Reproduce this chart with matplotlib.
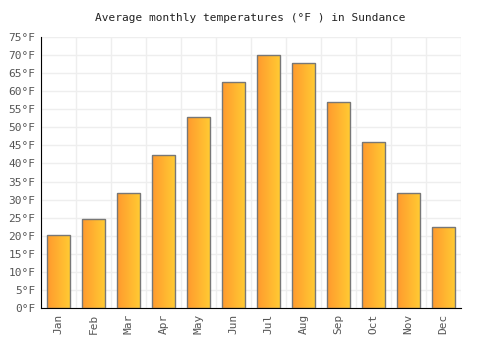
import numpy as np
import matplotlib
matplotlib.use("Agg")
import matplotlib.pyplot as plt
from matplotlib.colors import LinearSegmentedColormap
from matplotlib.ticker import MultipleLocator

## data

months = ["Jan", "Feb", "Mar", "Apr", "May", "Jun", "Jul", "Aug", "Sep", "Oct", "Nov", "Dec"]
temps_f = [20.2, 24.6, 31.8, 42.4, 52.8, 62.5, 70.1, 67.7, 57.0, 45.9, 31.8, 22.5]
yticks = list(range(0, 80, 5))

## figure

plt.rcParams["font.family"] = ["DejaVu Sans Mono"]
fig = plt.figure(figsize=(5, 3.5), dpi=100)
ax = fig.add_axes([41 / 500, 42 / 350, 420 / 500, 271 / 350])

grad = LinearSegmentedColormap.from_list("bar", ["#ff9a2e", "#ffcc33"])
x = np.arange(len(months))
bars = ax.bar(x, temps_f, width=0.68, facecolor="none", edgecolor="#777777", linewidth=1, zorder=3)

# horizontal gradient inside each bar
g = np.linspace(0, 1, 64).reshape(1, -1)
for b in bars:
    x0, y0 = b.get_x(), b.get_y()
    im = ax.imshow(g, cmap=grad, extent=(x0, x0 + b.get_width(), y0, y0 + b.get_height()),
                   aspect="auto", zorder=2)
    im.set_clip_path(b)

ax.set_xlim(-0.5, len(months) - 0.5)
ax.set_ylim(0, 75)
ax.set_xticks(x)
ax.set_xticklabels(months, rotation=90, color="#555555", fontsize=8)
ax.set_yticks(yticks)
ax.set_yticklabels([f"{v}°F" for v in yticks], color="#555555", fontsize=8)
ax.xaxis.set_minor_locator(MultipleLocator(1, offset=0.5))
ax.tick_params(axis="both", length=0, pad=4)
ax.tick_params(axis="x", which="minor", length=0)

ax.grid(True, axis="y", color="#eeeeee", linewidth=1, zorder=0)
ax.grid(True, axis="x", which="minor", color="#eeeeee", linewidth=1, zorder=0)
ax.set_axisbelow(True)

for s in ["top", "right"]:
    ax.spines[s].set_visible(False)
ax.spines["left"].set_color("black")
ax.spines["bottom"].set_color("black")

fig.text(0.5, 1 - 18 / 350, "Average monthly temperatures (°F ) in Sundance",
         ha="center", va="center", fontsize=8, color="#222222")

fig.savefig("out.png", dpi=100)
